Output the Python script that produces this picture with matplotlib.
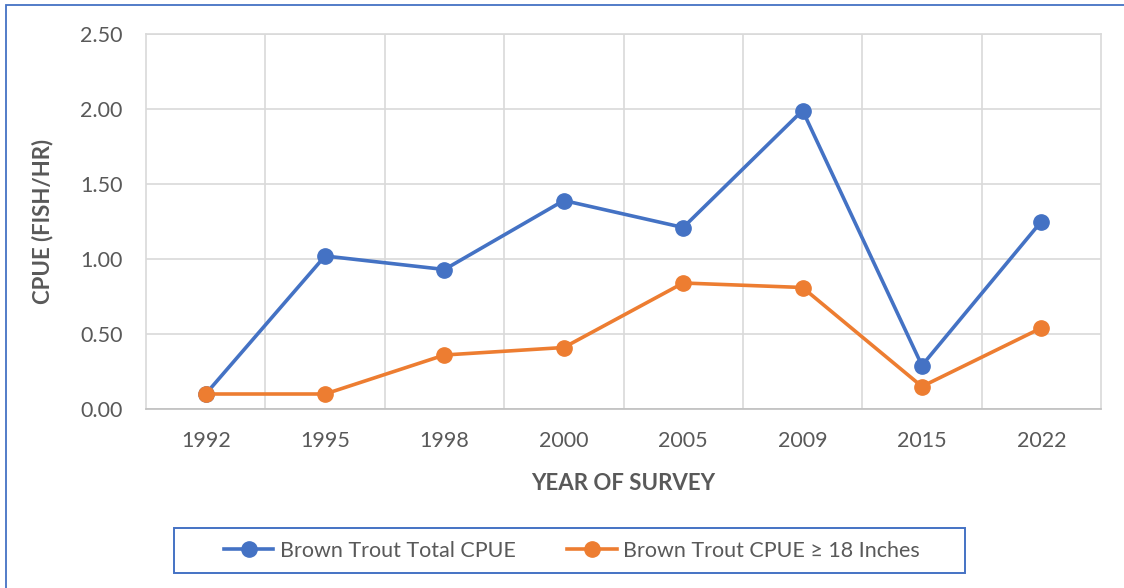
import matplotlib
matplotlib.use("Agg")
import matplotlib.pyplot as plt
from matplotlib.patches import Rectangle
import numpy as np

years = ["1992", "1995", "1998", "2000", "2005", "2009", "2015", "2022"]
total_cpue = [0.10, 1.02, 0.93, 1.39, 1.21, 1.99, 0.29, 1.25]
large_cpue = [0.10, 0.10, 0.36, 0.41, 0.84, 0.81, 0.15, 0.54]

BLUE = "#4472C4"
ORANGE = "#ED7D31"
GRID = "#D9D9D9"
TEXT = "#595959"

plt.rcParams["font.family"] = ["Lato", "DejaVu Sans"]

fig = plt.figure(figsize=(11.24, 5.88), dpi=100)
ax = fig.add_axes([146 / 1124, 1 - 409 / 588, (1101 - 146) / 1124, (409 - 34) / 588])

x = np.arange(len(years))
ax.plot(x, total_cpue, color=BLUE, lw=2.6, marker="o", ms=11,
        label="Brown Trout Total CPUE", zorder=3)
ax.plot(x, large_cpue, color=ORANGE, lw=2.6, marker="o", ms=11,
        label="Brown Trout CPUE \u2265 18 Inches", zorder=3)

ax.set_xlim(-0.5, len(years) - 0.5)
ax.set_ylim(0, 2.5)
ax.set_yticks(np.arange(0, 2.51, 0.5))
ax.set_yticklabels([f"{v:.2f}" for v in np.arange(0, 2.51, 0.5)])
ax.set_xticks(x)
ax.set_xticklabels(years)
ax.set_xticks(np.arange(0.5, len(years) - 1, 1), minor=True)

ax.grid(axis="y", which="major", color=GRID, lw=1.2)
ax.grid(axis="x", which="minor", color=GRID, lw=1.2)
ax.tick_params(which="both", length=0, labelsize=15.5, labelcolor=TEXT)
ax.tick_params(axis="y", pad=17)
ax.tick_params(axis="x", pad=16)
for side in ("left", "right", "top"):
    ax.spines[side].set_color(GRID)
    ax.spines[side].set_linewidth(1.2)
ax.spines["bottom"].set_color("#BFBFBF")
ax.spines["bottom"].set_linewidth(1.2)
ax.set_axisbelow(True)

ax.set_xlabel("YEAR OF SURVEY", fontsize=16, fontweight="bold", color=TEXT, labelpad=16)
ax.set_ylabel("CPUE (FISH/HR)", fontsize=16, fontweight="bold", color=TEXT, labelpad=19)

# legend without its own frame; the box is drawn separately to match the wide frame
leg = fig.legend(loc="center", bbox_to_anchor=(572 / 1124, 1 - 551 / 588),
                 ncol=2, frameon=False, fontsize=15.5,
                 handlelength=2.3, handletextpad=0.3, columnspacing=2.4,
                 borderpad=0, borderaxespad=0)
for t in leg.get_texts():
    t.set_color(TEXT)
fig.patches.append(Rectangle((174 / 1124, 1 - 573 / 588), (965 - 174) / 1124, 45 / 588,
                             transform=fig.transFigure, fill=False,
                             edgecolor=BLUE, lw=1.4))

# outer frame (only top and left edges fall inside the image)
fig.patches.append(Rectangle((6 / 1124, -0.05), 1.1, 1 - 5 / 588 + 0.05,
                             transform=fig.transFigure, fill=False,
                             edgecolor=BLUE, lw=1.3))

fig.savefig("out.png", dpi=100)
